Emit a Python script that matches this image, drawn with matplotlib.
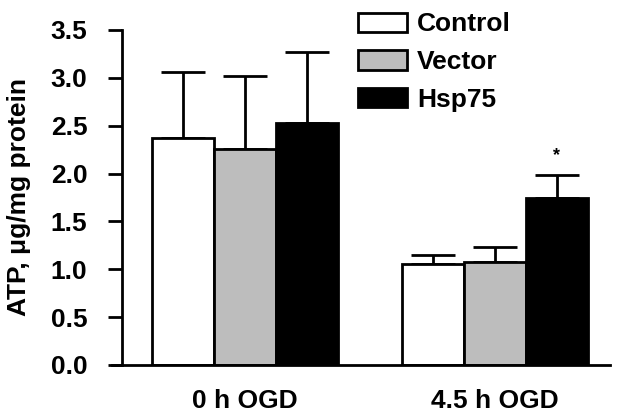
import matplotlib
matplotlib.use("Agg")
import matplotlib.pyplot as plt
import numpy as np

plt.rcParams['font.family'] = ['Liberation Sans', 'DejaVu Sans']

groups = ["0 h OGD", "4.5 h OGD"]
series = ["Control", "Vector", "Hsp75"]
colors = ["white", "#bdbdbd", "black"]
means = {"Control": [2.37, 1.05], "Vector": [2.26, 1.08], "Hsp75": [2.53, 1.74]}
errs = {"Control": [0.69, 0.10], "Vector": [0.76, 0.15], "Hsp75": [0.74, 0.25]}
yticks = [0.0, 0.5, 1.0, 1.5, 2.0, 2.5, 3.0, 3.5]

fig = plt.figure(figsize=(6.28, 4.16), dpi=100)
ax = fig.add_axes([0.1943, 0.1226, 0.777, 0.8054])

x = np.arange(len(groups))
w = 0.248
for i, s in enumerate(series):
    xs = x + (i - 1) * w
    ax.bar(xs, means[s], width=w, color=colors[i], edgecolor="black", linewidth=2, label=s, zorder=2)
    ax.errorbar(xs, means[s], yerr=[np.zeros(len(groups)), errs[s]], fmt="none",
                ecolor="black", elinewidth=2, capsize=16, capthick=2, zorder=1)

ax.text(x[1] + w, means["Hsp75"][1] + errs["Hsp75"][1] + 0.2, "*", ha="center", va="center",
        fontsize=13, fontweight="bold")

ax.set_xlim(-0.492, 1.46)
ax.set_ylim(0, 3.5)
ax.set_yticks(yticks)
ax.set_yticklabels([f"{t:.1f}" for t in yticks], fontsize=19, fontweight="bold")
ax.set_xticks(x)
ax.set_xticklabels(groups, fontsize=19, fontweight="bold")
ax.tick_params(axis="x", length=0, pad=17)
ax.tick_params(axis="y", length=10, width=2, direction="out", pad=15)
for sp in ["top", "right"]:
    ax.spines[sp].set_visible(False)
ax.spines["left"].set_linewidth(2)
ax.spines["bottom"].set_linewidth(2)
ax.spines["bottom"].set_bounds(-0.492 - 10/250, 1.46)
ax.spines["bottom"].set_clip_on(False)
ax.set_ylabel("ATP, μg/mg protein", fontsize=19, fontweight="bold", labelpad=14)

leg = ax.legend(loc="upper left", frameon=False,
                prop={"size": 19, "weight": "bold"}, handlelength=1.86, handleheight=0.76,
                labelspacing=0.52, handletextpad=0.38, borderaxespad=0, borderpad=0)
leg.set_bbox_to_anchor((0.570, 0.970), transform=fig.transFigure)
for h in leg.legend_handles:
    h.set_linewidth(2)

fig.savefig("out.png", dpi=100)
